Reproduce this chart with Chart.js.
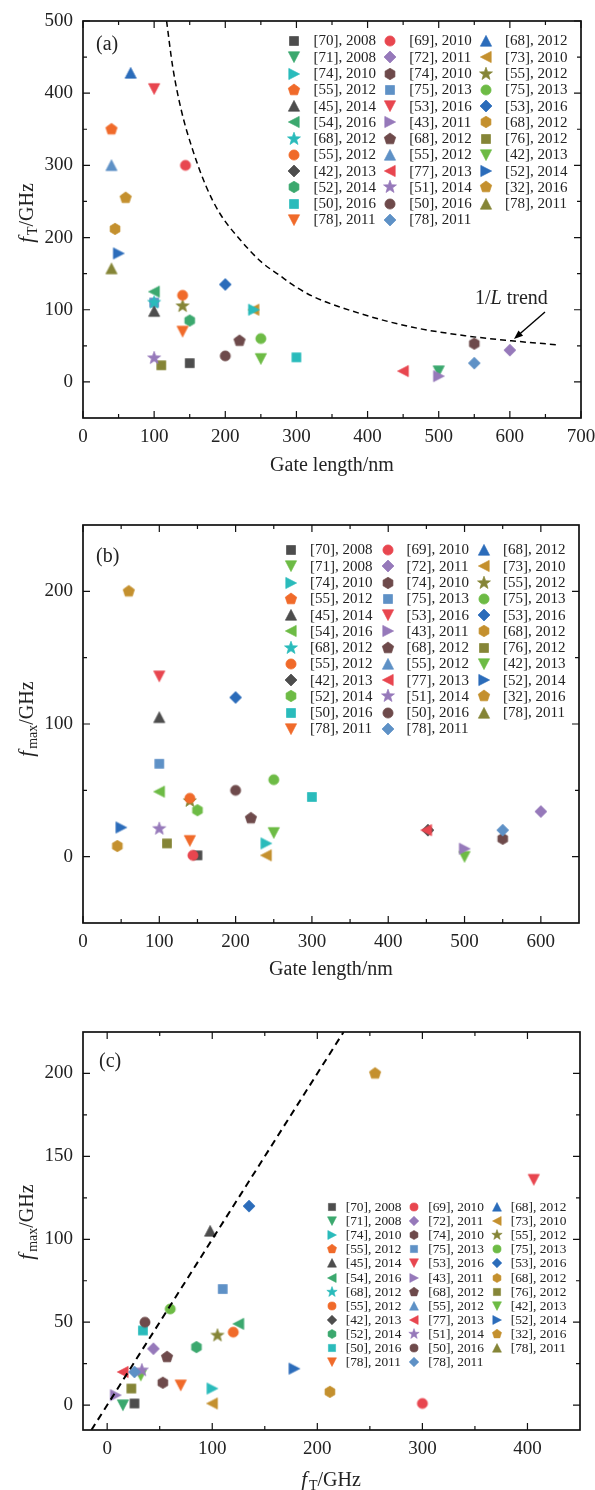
<!DOCTYPE html>
<html>
<head>
<meta charset="utf-8">
<script src="https://cdn.jsdelivr.net/npm/chart.js@4/dist/chart.umd.min.js"></script>
<style>
  html, body { margin: 0; padding: 0; background: #fff; overflow: hidden; }
  .panel { position: absolute; left: 0; }
</style>
</head>
<body>
<div class="panel" style="top:0"><canvas id="chartA" width="595" height="500"></canvas></div>
<div class="panel" style="top:500px"><canvas id="chartB" width="595" height="495"></canvas></div>
<div class="panel" style="top:1000px"><canvas id="chartC" width="595" height="490"></canvas></div>
<script>
// one entry per reference, in plotting order
const refs = [
  "[70], 2008", "[69], 2010", "[68], 2012", "[71], 2008", "[72], 2011", "[73], 2010",
  "[74], 2010", "[74], 2010", "[55], 2012", "[55], 2012", "[75], 2013", "[75], 2013",
  "[45], 2014", "[53], 2016", "[53], 2016", "[54], 2016", "[43], 2011", "[68], 2012",
  "[68], 2012", "[68], 2012", "[76], 2012", "[55], 2012", "[55], 2012", "[42], 2013",
  "[42], 2013", "[77], 2013", "[52], 2014", "[52], 2014", "[51], 2014", "[32], 2016",
  "[50], 2016", "[50], 2016", "[78], 2011", "[78], 2011", "[78], 2011"
];
// gate length, nm
const gateLength = [150, 144, 67, 500, 600, 240, 240, 550, 140, 40, 100, 250,
  100, 100, 200, 100, 500, 45, 100, 220, 110, 140, 40, 250,
  452, 450, 50, 150, 100, 60, 300, 200, 40, 140, 550];
// f_T, GHz (null = not reported)
const fT = [26, 300, 428, 15, 44, 100, 100, 53, 105, 350, 110, 60,
  98, 406, 135, 125, 8, 212, 110, 57, 23, 120, 300, 32,
  null, 15, 178, 85, 33, 255, 34, 36, 157, 70, 26];
// f_max, GHz (null = not reported)
const fmax = [1, 1, null, 0, 34, 1, 10, 13.5, 42, null, 70, 58,
  105, 136, 120, 49, 6, 8, null, 29, 10, 44, null, 18,
  20, 20, 22, 35, 21, 200, 45, 50, null, 12, 20];

// 1/L trend curve
const trendL = [117.5, 126, 138, 154, 173, 192, 220, 252, 276, 294, 322, 392, 462, 537, 602, 665];
const trendF = [500, 437, 377, 322, 271, 234, 198, 165, 148, 135, 119, 94, 76, 64, 57, 51.5];
// reference line in panel (c)
const diagX = [-15, 225];
const diagY = [-15, 225];

// tick values
const ticksA = { xMajor: [0, 100, 200, 300, 400, 500, 600, 700], xMinor: [50, 150, 250, 350, 450, 550, 650],
  yMajor: [0, 100, 200, 300, 400, 500], yMinor: [50, 150, 250, 350, 450] };
const ticksB = { xMajor: [0, 100, 200, 300, 400, 500, 600], xMinor: [50, 150, 250, 350, 450, 550],
  yMajor: [0, 100, 200], yMinor: [50, 150] };
const ticksC = { xMajor: [0, 100, 200, 300, 400], xMinor: [50, 150, 250, 350],
  yMajor: [0, 50, 100, 150, 200], yMinor: [25, 75, 125, 175] };

const palette = ["#4d4d4d", "#e8464f", "#2b6cba", "#3ba86e", "#9679ba", "#c4902e",
  "#2abbbb", "#6e4a4b", "#858537", "#f06a2a", "#5e91c6", "#6dbb45"];
const paletteB = palette.slice();
paletteB[3] = "#6dbb45";
const shapes = ["square", "circle", "up", "down", "diamond", "left", "right", "hexagon", "star", "pentagon"];

const SERIF = '"Liberation Serif", "DejaVu Serif", serif';
const INK = "#222";

function poly(g, n, R, start) {
  for (let k = 0; k < n; k++) {
    const a = start + k * 2 * Math.PI / n;
    const px = R * Math.cos(a), py = R * Math.sin(a);
    if (k === 0) g.moveTo(px, py); else g.lineTo(px, py);
  }
}

function markerCanvas(shape, color, k) {
  const S = 18;
  const c = document.createElement("canvas");
  c.width = S; c.height = S;
  const g = c.getContext("2d");
  g.translate(S / 2, S / 2);
  g.scale(k, k);
  g.fillStyle = color;
  g.strokeStyle = color;
  g.lineWidth = 0.7;
  g.beginPath();
  switch (shape) {
    case "square": g.rect(-4.5, -4.5, 9, 9); break;
    case "circle": g.arc(0, 0, 5.1, 0, Math.PI * 2); break;
    case "up": g.moveTo(0, -5.6); g.lineTo(5.6, 5.2); g.lineTo(-5.6, 5.2); break;
    case "down": g.moveTo(0, 5.6); g.lineTo(5.6, -5.2); g.lineTo(-5.6, -5.2); break;
    case "left": g.moveTo(-5.6, 0); g.lineTo(5.2, -5.6); g.lineTo(5.2, 5.6); break;
    case "right": g.moveTo(5.6, 0); g.lineTo(-5.2, -5.6); g.lineTo(-5.2, 5.6); break;
    case "diamond": g.moveTo(0, -6); g.lineTo(6, 0); g.lineTo(0, 6); g.lineTo(-6, 0); break;
    case "hexagon": poly(g, 6, 5.7, -Math.PI / 2); break;
    case "pentagon": poly(g, 5, 6, -Math.PI / 2); break;
    case "star":
      for (let j = 0; j < 10; j++) {
        const a = -Math.PI / 2 + j * Math.PI / 5;
        const R = j % 2 === 0 ? 6.8 : 2.8;
        if (j === 0) g.moveTo(R * Math.cos(a), R * Math.sin(a)); else g.lineTo(R * Math.cos(a), R * Math.sin(a));
      }
      break;
  }
  g.closePath();
  g.fill();
  g.stroke();
  return c;
}

function markerSet(pal, k) {
  return refs.map((r, i) => markerCanvas(shapes[i % 10], pal[i % 12], k));
}

function pointSets(xs, ys, markers) {
  return refs.map((r, i) => ({
    label: r,
    data: (xs[i] != null && ys[i] != null) ? [{ x: xs[i], y: ys[i] }] : [],
    pointStyle: markers[i],
    pointRadius: 6,
    showLine: false,
    order: -i
  }));
}

// inward ticks on all four sides plus the frame
function framePlugin(t) {
  return {
    id: "frame",
    afterDraw(chart) {
      const { ctx, chartArea: a, scales: { x, y } } = chart;
      ctx.save();
      ctx.strokeStyle = "#111";
      ctx.lineWidth = 1.2;
      ctx.beginPath();
      const vx = (vals, len) => vals.forEach(v => {
        const px = x.getPixelForValue(v);
        ctx.moveTo(px, a.bottom); ctx.lineTo(px, a.bottom - len);
        ctx.moveTo(px, a.top); ctx.lineTo(px, a.top + len);
      });
      const vy = (vals, len) => vals.forEach(v => {
        const py = y.getPixelForValue(v);
        ctx.moveTo(a.left, py); ctx.lineTo(a.left + len, py);
        ctx.moveTo(a.right, py); ctx.lineTo(a.right - len, py);
      });
      vx(t.xMajor, 7); vx(t.xMinor, 4);
      vy(t.yMajor, 7); vy(t.yMinor, 4);
      ctx.stroke();
      ctx.lineWidth = 1.7;
      ctx.strokeRect(a.left, a.top, a.right - a.left, a.bottom - a.top);
      ctx.restore();
    }
  };
}

function legendPlugin(o) {
  return {
    id: "refLegend",
    afterDraw(chart) {
      const ctx = chart.ctx;
      ctx.save();
      ctx.font = o.font;
      ctx.fillStyle = INK;
      ctx.textBaseline = "middle";
      ctx.textAlign = "left";
      refs.forEach((r, i) => {
        const mx = o.x + (i % 3) * o.dx;
        const my = o.y + Math.floor(i / 3) * o.dy;
        const m = o.markers[i];
        ctx.drawImage(m, Math.round(mx - m.width / 2), Math.round(my - m.height / 2));
        ctx.fillText(r, mx + o.gap, my + 0.5);
      });
      ctx.restore();
    }
  };
}

// f with subscript, then /GHz
function drawFTitle(ctx, cx, cy, sub, rotate) {
  ctx.save();
  ctx.translate(cx, cy);
  if (rotate) ctx.rotate(-Math.PI / 2);
  ctx.fillStyle = INK;
  ctx.textBaseline = "alphabetic";
  ctx.textAlign = "left";
  const fF = "italic 21px " + SERIF, fS = "14px " + SERIF, fR = "20px " + SERIF;
  ctx.font = fF; const wf = ctx.measureText("f").width;
  ctx.font = fS; const ws = ctx.measureText(sub).width;
  ctx.font = fR; const wr = ctx.measureText("/GHz").width;
  let x0 = -(wf + 2 + ws + wr) / 2;
  ctx.font = fF; ctx.fillText("f", x0, 7); x0 += wf + 2;
  ctx.font = fS; ctx.fillText(sub, x0, 11); x0 += ws;
  ctx.font = fR; ctx.fillText("/GHz", x0, 7);
  ctx.restore();
}

function textPlugin(draw) {
  return { id: "texts", afterDraw(chart) { draw(chart.ctx); } };
}

function plainText(ctx, s, x, y, align, size) {
  ctx.save();
  ctx.font = (size || 20) + "px " + SERIF;
  ctx.fillStyle = INK;
  ctx.textAlign = align;
  ctx.textBaseline = "middle";
  ctx.fillText(s, x, y);
  ctx.restore();
}

function makeChart(id, o) {
  const ctx = document.getElementById(id);
  return new Chart(ctx, {
    type: "scatter",
    data: { datasets: o.datasets },
    options: {
      responsive: false,
      animation: false,
      events: [],
      layout: { padding: { left: 0, top: o.top, right: o.right, bottom: 0 } },
      plugins: { legend: { display: false }, tooltip: { enabled: false } },
      scales: {
        x: {
          type: "linear", min: o.xMin, max: o.xMax,
          grid: { display: false, drawTicks: false },
          border: { display: false },
          afterBuildTicks: s => { s.ticks = o.ticks.xMajor.map(v => ({ value: v })); },
          afterFit: s => { s.height = o.xHeight; s.paddingLeft = 0; s.paddingRight = 0; },
          ticks: { autoSkip: false, maxRotation: 0, padding: 8, color: INK, font: { family: SERIF, size: 19 } }
        },
        y: {
          type: "linear", min: o.yMin, max: o.yMax,
          grid: { display: false, drawTicks: false },
          border: { display: false },
          afterBuildTicks: s => { s.ticks = o.ticks.yMajor.map(v => ({ value: v })); },
          afterFit: s => { s.width = 83; s.paddingTop = 0; s.paddingBottom = 0; },
          ticks: { autoSkip: false, padding: 10, color: INK, font: { family: SERIF, size: 19 } }
        }
      }
    },
    plugins: o.plugins
  });
}

// ---------- (a) f_T vs gate length ----------
const markersA = markerSet(palette, 1);
const trendSet = {
  label: "1/L trend",
  data: trendL.map((l, i) => ({ x: l, y: trendF[i] })),
  showLine: true, borderColor: "#000", borderWidth: 1.5, borderDash: [6, 4],
  pointRadius: 0, cubicInterpolationMode: "monotone", order: -100
};
makeChart("chartA", {
  datasets: pointSets(gateLength, fT, markersA).concat([trendSet]),
  xMin: 0, xMax: 700, yMin: -50, yMax: 500,
  top: 21, right: 14, xHeight: 82, ticks: ticksA,
  plugins: [
    framePlugin(ticksA),
    legendPlugin({ markers: markersA, x: 294, dx: 95.8, y: 41, dy: 16.27, gap: 19.5, font: "15px " + SERIF }),
    textPlugin(ctx => {
      plainText(ctx, "(a)", 96, 45, "left", 20);
      plainText(ctx, "Gate length/nm", 332, 466, "center", 20);
      drawFTitle(ctx, 26, 213, "T", true);
      // 1/L trend label with arrow
      ctx.save();
      ctx.fillStyle = INK;
      ctx.textBaseline = "middle";
      ctx.textAlign = "left";
      ctx.font = "20px " + SERIF;
      let x0 = 475;
      ctx.fillText("1/", x0, 299); x0 += ctx.measureText("1/").width;
      ctx.font = "italic 20px " + SERIF;
      ctx.fillText("L", x0, 299); x0 += ctx.measureText("L").width;
      ctx.font = "20px " + SERIF;
      ctx.fillText(" trend", x0, 299);
      ctx.strokeStyle = "#000";
      ctx.fillStyle = "#000";
      ctx.lineWidth = 1.4;
      const x1 = 545, y1 = 312, x2 = 514, y2 = 339;
      const ang = Math.atan2(y2 - y1, x2 - x1);
      ctx.beginPath(); ctx.moveTo(x1, y1); ctx.lineTo(x2 - 6 * Math.cos(ang), y2 - 6 * Math.sin(ang)); ctx.stroke();
      ctx.beginPath();
      ctx.moveTo(x2, y2);
      ctx.lineTo(x2 - 9 * Math.cos(ang) + 3.5 * Math.sin(ang), y2 - 9 * Math.sin(ang) - 3.5 * Math.cos(ang));
      ctx.lineTo(x2 - 9 * Math.cos(ang) - 3.5 * Math.sin(ang), y2 - 9 * Math.sin(ang) + 3.5 * Math.cos(ang));
      ctx.closePath(); ctx.fill();
      ctx.restore();
    })
  ]
});

// ---------- (b) f_max vs gate length ----------
const markersB = markerSet(paletteB, 1);
makeChart("chartB", {
  datasets: pointSets(gateLength, fmax, markersB),
  xMin: 0, xMax: 650, yMin: -50, yMax: 250,
  top: 25, right: 16, xHeight: 72, ticks: ticksB,
  plugins: [
    framePlugin(ticksB),
    legendPlugin({ markers: markersB, x: 291, dx: 96.5, y: 50, dy: 16.27, gap: 19, font: "15px " + SERIF }),
    textPlugin(ctx => {
      plainText(ctx, "(b)", 96, 57, "left", 20);
      plainText(ctx, "Gate length/nm", 331, 470, "center", 20);
      drawFTitle(ctx, 26, 219, "max", true);
    })
  ]
});

// ---------- (c) f_max vs f_T ----------
const markersC = markerSet(palette, 1);
const markersCLegend = markerSet(palette, 0.8);
const diagSet = {
  label: "fmax = fT",
  data: diagX.map((v, i) => ({ x: v, y: diagY[i] })),
  showLine: true, borderColor: "#000", borderWidth: 2, borderDash: [7, 5],
  pointRadius: 0, order: -100
};
makeChart("chartC", {
  datasets: pointSets(fT, fmax, markersC).concat([diagSet]),
  xMin: -23, xMax: 450, yMin: -15, yMax: 225,
  top: 32, right: 15, xHeight: 60, ticks: ticksC,
  plugins: [
    framePlugin(ticksC),
    legendPlugin({ markers: markersCLegend, x: 331.7, dx: 82.5, y: 207.3, dy: 14.04, gap: 14, font: "13.4px " + SERIF }),
    textPlugin(ctx => {
      plainText(ctx, "(c)", 99, 62, "left", 20);
      drawFTitle(ctx, 331, 479, "T", false);
      drawFTitle(ctx, 26, 222, "max", true);
    })
  ]
});
</script>
</body>
</html>
